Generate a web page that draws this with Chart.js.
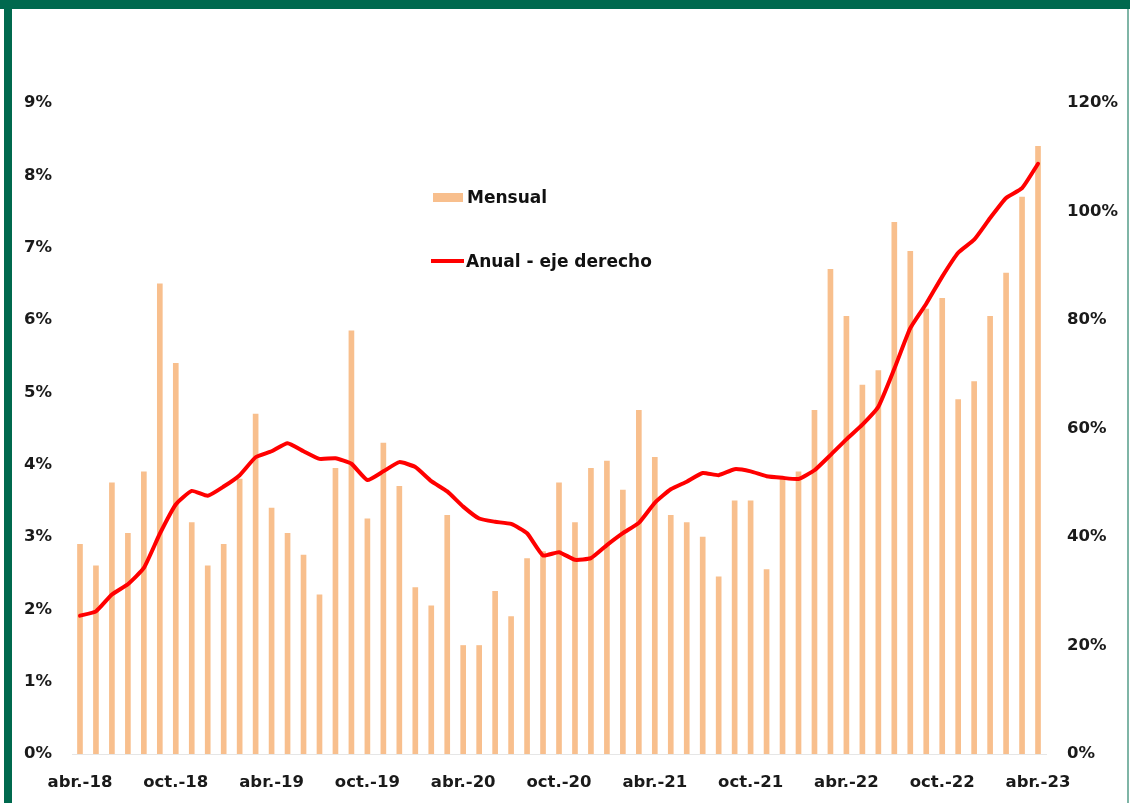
<!DOCTYPE html>
<html>
<head>
<meta charset="utf-8">
<script src="https://cdn.jsdelivr.net/npm/chart.js@4/dist/chart.umd.min.js"></script>
<style>
  html, body { margin: 0; padding: 0; background: #ffffff; }
  body { width: 1130px; height: 803px; position: relative; overflow: hidden; font-family: "DejaVu Sans", sans-serif; }
  #wrap { position: absolute; left: 0; top: 0; width: 1130px; height: 803px; }
  .frame { position: absolute; background: #00694E; }
  .leg { position: absolute; font: bold 17px "DejaVu Sans", sans-serif; color: #111; line-height: 20px; white-space: nowrap; }
  .sw { position: absolute; }
</style>
</head>
<body>
<div id="wrap"><canvas id="c" width="1130" height="803"></canvas></div>
<div class="frame" style="left:0;top:0;width:1130px;height:9px;"></div>
<div class="frame" style="left:4px;top:0;width:8px;height:803px;"></div>
<div style="position:absolute;left:1127px;top:9px;width:2px;height:794px;background:#7FB5A6;"></div>

<div class="sw" style="left:433px;top:193px;width:30px;height:9px;background:#F8BF8D;"></div>
<div class="leg" style="left:467px;top:187px;">Mensual</div>
<div class="sw" style="left:431px;top:259px;width:33px;height:4px;background:#FF0000;"></div>
<div class="leg" style="left:466px;top:251px;">Anual - eje derecho</div>

<script>
const categories = [
  "abr.-18","may.-18","jun.-18","jul.-18","ago.-18","sep.-18","oct.-18","nov.-18","dic.-18",
  "ene.-19","feb.-19","mar.-19","abr.-19","may.-19","jun.-19","jul.-19","ago.-19","sep.-19","oct.-19","nov.-19","dic.-19",
  "ene.-20","feb.-20","mar.-20","abr.-20","may.-20","jun.-20","jul.-20","ago.-20","sep.-20","oct.-20","nov.-20","dic.-20",
  "ene.-21","feb.-21","mar.-21","abr.-21","may.-21","jun.-21","jul.-21","ago.-21","sep.-21","oct.-21","nov.-21","dic.-21",
  "ene.-22","feb.-22","mar.-22","abr.-22","may.-22","jun.-22","jul.-22","ago.-22","sep.-22","oct.-22","nov.-22","dic.-22",
  "ene.-23","feb.-23","mar.-23","abr.-23"
];
const mensual = [
  2.9, 2.6, 3.75, 3.05, 3.9, 6.5, 5.4, 3.2, 2.6,
  2.9, 3.8, 4.7, 3.4, 3.05, 2.75, 2.2, 3.95, 5.85, 3.25, 4.3, 3.7,
  2.3, 2.05, 3.3, 1.5, 1.5, 2.25, 1.9, 2.7, 2.8, 3.75, 3.2, 3.95,
  4.05, 3.65, 4.75, 4.1, 3.3, 3.2, 3.0, 2.45, 3.5, 3.5, 2.55, 3.8,
  3.9, 4.75, 6.7, 6.05, 5.1, 5.3, 7.35, 6.95, 6.15, 6.3, 4.9, 5.15,
  6.05, 6.65, 7.7, 8.4
];
const anual = [
  25.5, 26.3, 29.4, 31.3, 34.3, 40.6, 46.0, 48.5, 47.6,
  49.3, 51.4, 54.7, 55.8, 57.3, 55.8, 54.4, 54.5, 53.5, 50.5, 52.1, 53.8,
  52.9, 50.3, 48.4, 45.6, 43.4, 42.8, 42.4, 40.7, 36.6, 37.2, 35.8, 36.1,
  38.5, 40.7, 42.6, 46.3, 48.8, 50.2, 51.8, 51.4, 52.5, 52.1, 51.2, 50.9,
  50.7, 52.3, 55.1, 58.0, 60.7, 64.0, 71.0, 78.5, 83.0, 88.0, 92.4, 94.8,
  98.8, 102.5, 104.3, 108.8
];
const leftTicks = [0,1,2,3,4,5,6,7,8,9];
const rightTicks = [0,20,40,60,80,100,120];

const tickFont = { family: "DejaVu Sans", size: 16.5, weight: "bold" };
const tickColor = "#1a1a1a";

new Chart(document.getElementById("c"), {
  data: {
    labels: categories,
    datasets: [
      {
        type: "line", label: "Anual - eje derecho", data: anual, yAxisID: "y1",
        borderColor: "#FF0000", borderWidth: 4, pointRadius: 0, tension: 0.15,
        order: 0, borderCapStyle: "round", borderJoinStyle: "round"
      },
      {
        type: "bar", label: "Mensual", data: mensual, yAxisID: "y",
        backgroundColor: "#F8BF8D", barThickness: 5, order: 1
      }
    ]
  },
  options: {
    responsive: false,
    animation: false,
    layout: { padding: { top: 103, left: 0, right: 0, bottom: 0 } },
    plugins: { legend: { display: false }, tooltip: { enabled: false } },
    scales: {
      x: {
        offset: true,
        grid: { display: false, drawTicks: false },
        border: { display: true, color: "#e6e6e6", width: 1 },
        ticks: {
          autoSkip: false, maxRotation: 0, minRotation: 0, padding: 19,
          font: tickFont, color: tickColor,
          callback: function(v, i) { return i % 6 === 0 ? categories[i] : ""; }
        },
        afterFit: function(s) { s.height = 49; }
      },
      y: {
        position: "left", min: 0, max: 9,
        grid: { display: false, drawTicks: false },
        border: { display: false },
        afterBuildTicks: function(s) { s.ticks = leftTicks.map(v => ({ value: v })); },
        ticks: { padding: 20, font: tickFont, color: tickColor, callback: v => v + "%" },
        afterFit: function(s) { s.width = 72; }
      },
      y1: {
        position: "right", min: 0, max: 120,
        grid: { display: false, drawTicks: false },
        border: { display: false },
        afterBuildTicks: function(s) { s.ticks = rightTicks.map(v => ({ value: v })); },
        ticks: { padding: 21, font: tickFont, color: tickColor, callback: v => v + "%" },
        afterFit: function(s) { s.width = 84; }
      }
    }
  }
});
</script>
</body>
</html>
